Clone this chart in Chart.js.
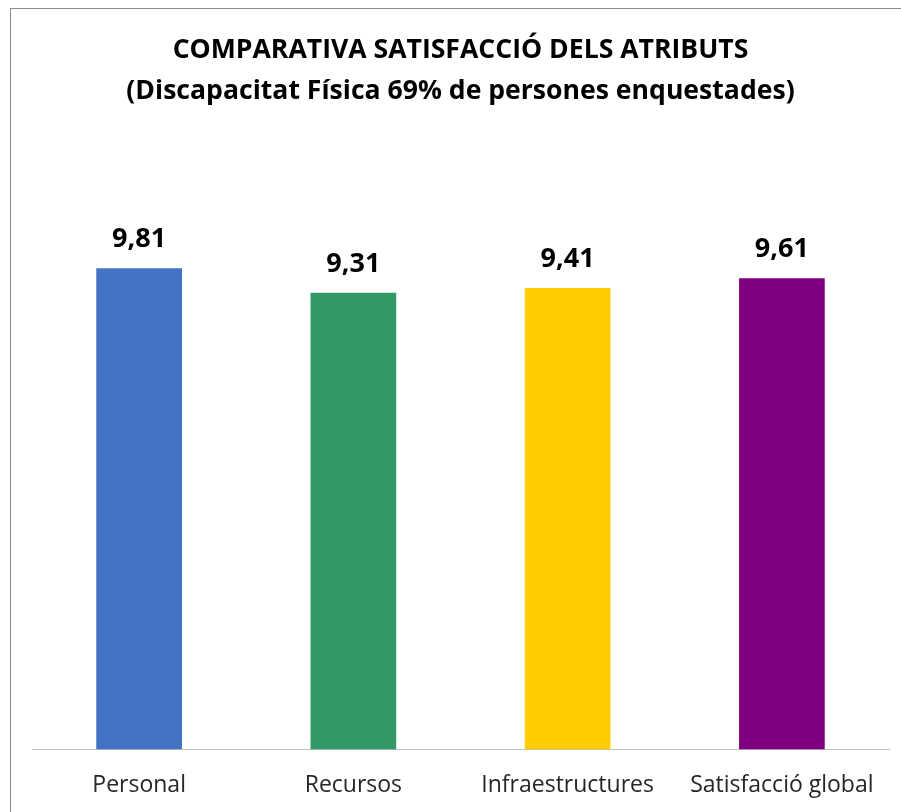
<!DOCTYPE html>
<html>
<head>
<meta charset="utf-8">
<script src="https://cdn.jsdelivr.net/npm/chart.js@4.4.1/dist/chart.umd.min.js"></script>
<style>
    html, body { margin: 0; padding: 0; background: #fff; overflow: hidden; }
    #wrap {
        position: absolute; left: 10px; top: 8px;
        width: 900px; height: 804px;
        border-left: 1px solid #8c8c8c; border-top: 1px solid #8c8c8c;
    }
</style>
</head>
<body>
<div id="wrap"><canvas id="satChart" width="900" height="804"></canvas></div>
<script>
const categories = ['Personal', 'Recursos', 'Infraestructures', 'Satisfacció global'];
const values = [9.81, 9.31, 9.41, 9.61];
const barColors = ['#4472C4', '#339966', '#FFCC00', '#800080'];
const titleLines = ['COMPARATIVA SATISFACCIÓ DELS ATRIBUTS', '(Discapacitat Física 69% de persones enquestades)'];

const FONT = "'Open Sans', 'DejaVu Sans', sans-serif";

// etiquetes de valor damunt de cada barra
const valueLabels = {
    id: 'valueLabels',
    afterDatasetsDraw(chart) {
        const ctx = chart.ctx;
        const meta = chart.getDatasetMeta(0);
        ctx.save();
        ctx.font = 'bold 27px ' + FONT;
        ctx.fillStyle = '#000';
        ctx.textAlign = 'center';
        ctx.textBaseline = 'alphabetic';
        meta.data.forEach((bar, i) => {
            ctx.fillText(values[i].toFixed(2).replace('.', ','), bar.x, bar.y - 21);
        });
        ctx.restore();
    }
};

new Chart(document.getElementById('satChart'), {
    type: 'bar',
    data: {
        labels: categories,
        datasets: [{
            data: values,
            backgroundColor: barColors,
            barPercentage: 0.4,
            categoryPercentage: 1.0
        }]
    },
    options: {
        responsive: false,
        animation: false,
        layout: { padding: { left: 21, right: 22, top: 21, bottom: 0 } },
        plugins: {
            legend: { display: false },
            tooltip: { enabled: false },
            title: {
                display: true,
                text: titleLines,
                color: '#000',
                font: { family: FONT, size: 26.6, weight: 'bold', lineHeight: 1.54 },
                padding: { top: 0, bottom: 49 }
            }
        },
        scales: {
            y: { display: false, min: 0, max: 12 },
            x: {
                grid: { display: false },
                border: { display: true, color: '#BFBFBF', width: 1 },
                ticks: { color: '#262626', font: { family: FONT, size: 23 }, padding: 14 }
            }
        }
    },
    plugins: [valueLabels]
});
</script>
</body>
</html>
